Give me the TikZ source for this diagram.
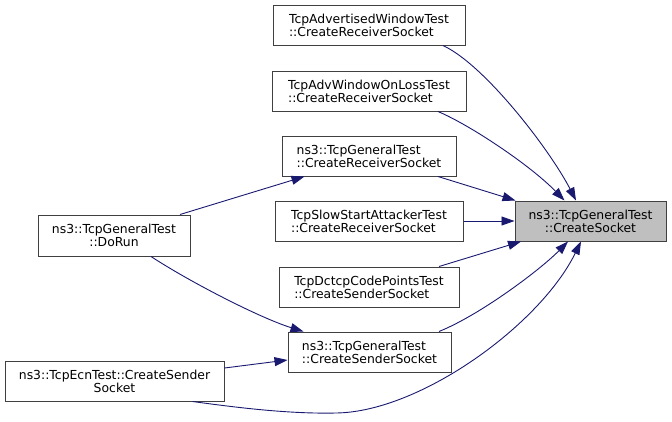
\documentclass[tikz,border=0pt]{standalone}
\usepackage{fontspec}
\setmainfont{DejaVu Sans}
\usetikzlibrary{arrows.meta,calc}
\definecolor{edgeblue}{HTML}{191970}
\definecolor{nodeborder}{HTML}{404040}
\definecolor{targetfill}{HTML}{BFBFBF}
\begin{document}
\begin{tikzpicture}[x=1pt,y=-1pt,
  box/.style={draw=nodeborder,line width=1pt,fill=white,rectangle,inner sep=0pt,
    minimum height=40pt,align=center,font=\fontsize{12.4}{13}\selectfont},
  lbox/.style={box,align=left},
  tgt/.style={box,fill=targetfill},
  conn/.style={draw=edgeblue,line width=0.9pt,-{Triangle[length=13pt,width=9pt]}}]
\useasboundingbox (0,0) rectangle (672,421);
\node[lbox,minimum width=192pt] (adv) at (369,25) {TcpAdvertisedWindowTest\\::CreateReceiverSocket};
\node[lbox,minimum width=194pt] (advloss) at (369,91) {TcpAdvWindowOnLossTest\\::CreateReceiverSocket};
\node[lbox,minimum width=174pt] (gr) at (369,156) {ns3::TcpGeneralTest\\::CreateReceiverSocket};
\node[lbox,minimum width=188pt] (slow) at (369,221) {TcpSlowStartAttackerTest\\::CreateReceiverSocket};
\node[lbox,minimum width=180pt] (dctcp) at (369,287) {TcpDctcpCodePointsTest\\::CreateSenderSocket};
\node[lbox,minimum width=163pt] (gs) at (369.5,352) {ns3::TcpGeneralTest\\::CreateSenderSocket};
\node[box,minimum width=152pt,minimum height=41pt] (dorun) at (114,235.5) {ns3::TcpGeneralTest\\::DoRun};
\node[box,minimum width=219pt] (ecn) at (114.5,381) {ns3::TcpEcnTest::CreateSender\\Socket};
\node[tgt,minimum width=151pt] (target) at (590.5,221) {ns3::TcpGeneralTest\\::CreateSocket};

\draw[conn] ($(adv.south)+(74,0)$) .. controls (485,65) and (550,150) .. ($(target.north)+(-14.5,0)$);
\draw[conn] ($(advloss.south)+(69,0)$) .. controls (470,125) and (530,165) .. ($(target.north)+(-26,0)$);
\draw[conn] ($(gr.south)+(69,0)$) -- ($(target.north west)+(1,0)$);
\draw[conn] (slow.east) -- (target.west);
\draw[conn] ($(dctcp.north)+(70,0)$) -- ($(target.south west)+(6.5,0)$);
\draw[conn] ($(gs.north)+(69.5,0)$) .. controls (480,315) and (540,270) .. ($(target.south)+(-22.5,0)$);
\draw[conn] ($(ecn.south)+(78,0)$) .. controls (240,408) and (290,414) .. (336,413)
  .. controls (420,412) and (540,325) .. ($(target.south)+(-9.5,0)$);
\draw[conn] ($(dorun.north)+(66,0)$) -- ($(gr.south west)+(23,0)$);
\draw[conn] ($(dorun.south)+(37,0)$) .. controls (190,282) and (260,318) .. ($(gs.north west)+(16,0)$);
\draw[conn] ($(ecn.east)+(0,-13)$) -- ($(gs.west)+(0,8)$);
\end{tikzpicture}
\end{document}
